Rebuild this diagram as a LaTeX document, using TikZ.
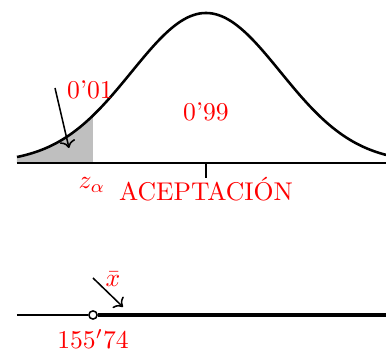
\documentclass[tikz,border=0pt]{standalone}
\usetikzlibrary{arrows.meta, calc, positioning}
\begin{document}
\begin{tikzpicture}[x=0.39pt, y=0.39pt, lab/.style={red, inner sep=0pt}]
\useasboundingbox (0,0) rectangle (386,350);

% Shaded tail under the curve
\fill[gray!50] (17,187) -- plot[domain=17:93, samples=40] (\x,{187+150*exp(-((\x-206)/74.5)^2/2)}) -- (93,187) -- cycle;

% Normal density
\draw[line width=1pt] plot[domain=17:386, samples=120] (\x,{187+150*exp(-((\x-206)/74.5)^2/2)});

% Axis with the tick at the mean
\draw[semithick] (17,187) -- (386,187);
\draw[semithick] (206,187) -- (206,172);

% Labels of the upper figure
\node[lab] (tail) at (90,260) {0'01};
\node[lab] (acc) at (206,238) {0'99};
\node[lab] (za) at (92,165) {$z_\alpha$};
\node[lab] (zone) at (206,161) {ACEPTACI\'ON};
\coordinate (tailfrom) at (55,262);
\coordinate (tailto) at (69,202);
\draw[semithick, ->] (tailfrom) -- (tailto);

% Lower number line
\coordinate (left) at (17,35);
\coordinate (right) at (386,35);
\node[circle, draw, semithick, fill=white, inner sep=0pt, minimum size=3.2pt] (crit) at (93,35) {};
\draw[semithick] (left) -- (crit);
\draw[line width=1.6pt] (crit) -- (right);
\node[lab] (val) at (93,11) {$155'74$};
\node[lab] (xbar) at (113,71) {$\bar{x}$};
\coordinate (xfrom) at (93,72);
\coordinate (xto) at (123,43);
\draw[semithick, ->] (xfrom) -- (xto);

\end{tikzpicture}
\end{document}
